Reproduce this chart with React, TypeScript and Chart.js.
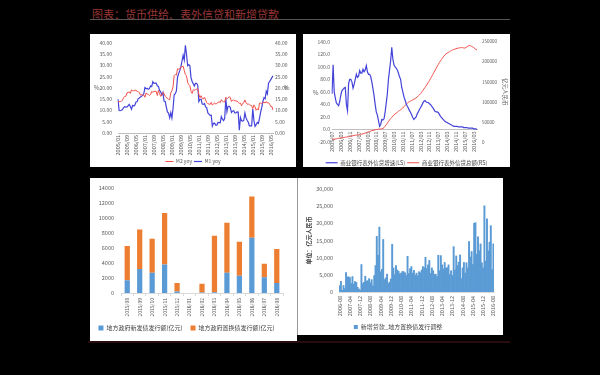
import React, { useEffect, useRef } from 'react';
import { Chart, registerables } from 'chart.js';
Chart.register(...registerables);

const FONT = '"Noto Sans CJK SC", "Noto Sans", sans-serif';
const TICK = '#595959';
const TITLE = '图表：货币供给、表外信贷和新增贷款';

// ---------- Panel 1: M2 / M1 yoy (monthly, 2005/01 - 2016/07)
const p1Series = ['M2 yoy', 'M1 yoy'];
const m2Yoy = [
  14.1, 13.9, 14.0, 14.1, 14.6, 15.7, 16.3, 16.3, 17.9, 18.0, 18.3, 17.6,
  19.2, 18.8, 18.8, 18.9, 19.1, 18.4, 18.4, 17.9, 16.8, 17.1, 16.8, 16.9,
  15.9, 17.8, 17.3, 17.1, 16.7, 17.1, 18.5, 18.1, 18.5, 18.5, 18.5, 16.7,
  18.9, 17.5, 16.3, 16.9, 18.1, 17.4, 16.4, 16.0, 15.3, 15.0, 14.8, 17.8,
  18.8, 20.5, 25.5, 26.0, 25.7, 28.5, 28.4, 28.5, 29.3, 29.4, 29.7, 27.7,
  26.0, 25.5, 22.5, 21.5, 21.0, 18.5, 17.6, 19.2, 19.0, 19.3, 19.5, 19.7,
  17.2, 15.7, 16.6, 15.3, 15.1, 15.9, 14.7, 13.5, 13.0, 12.9, 12.7, 13.6,
  12.4, 13.0, 13.4, 12.8, 13.2, 13.6, 13.9, 13.5, 14.8, 14.1, 13.9, 13.8,
  15.9, 15.2, 15.7, 16.1, 15.8, 14.0, 14.5, 14.7, 14.2, 14.3, 14.2, 13.6,
  13.2, 13.3, 12.1, 13.2, 13.4, 14.7, 13.5, 12.8, 12.9, 12.6, 12.3, 12.2,
  10.8, 12.5, 11.6, 10.1, 10.8, 10.2, 13.3, 13.3, 13.1, 13.5, 13.7, 13.3,
  14.0, 13.3, 13.4, 12.8, 11.8, 11.8, 10.2,
];
const m1Yoy = [
  15.0, 10.0, 9.9, 10.1, 10.4, 11.3, 11.7, 11.5, 11.6, 12.1, 12.7, 11.8,
  10.6, 12.3, 12.0, 12.4, 13.8, 13.9, 15.3, 15.6, 16.0, 16.3, 16.8, 17.5,
  20.2, 19.7, 19.8, 19.4, 19.8, 20.9, 20.6, 22.8, 22.1, 22.2, 22.2, 21.0,
  20.7, 18.9, 18.3, 16.9, 18.0, 14.2, 14.0, 11.6, 9.4, 8.9, 6.8, 9.1,
  6.7, 10.9, 17.0, 17.5, 18.7, 24.8, 26.4, 27.7, 29.5, 32.0, 34.6, 32.4,
  39.0, 35.0, 29.9, 30.4, 29.9, 24.6, 22.9, 21.9, 20.9, 22.1, 22.1, 21.2,
  14.0, 15.0, 15.0, 12.9, 12.7, 13.1, 11.6, 11.2, 8.9, 8.4, 7.8, 7.9,
  3.1, 4.3, 4.4, 3.5, 3.5, 4.7, 4.6, 4.5, 7.3, 6.1, 5.5, 6.5,
  15.3, 9.5, 11.9, 11.9, 11.3, 9.1, 9.7, 9.9, 8.9, 8.9, 9.4, 9.3,
  1.2, 6.9, 5.4, 5.3, 5.7, 8.9, 6.7, 5.7, 4.8, 3.2, 3.2, 3.2,
  10.6, 5.6, 2.9, 3.7, 4.7, 4.3, 6.6, 9.3, 11.4, 14.0, 15.7, 15.2,
  18.6, 17.4, 22.1, 22.9, 23.7, 24.6, 25.4,
];

// ---------- Panel 2: off-balance-sheet credit (monthly, 2005/07 - 2016/06)
const p2Series = ['商业银行表外信贷增速(LS)', '商业银行表外信贷总额(RS)'];
const p2Growth = [
  57, 103, 60, 50, 42, 40, 38, 45, 55, 62,
  64, 66, 67, 40, 30, 73, 80, 80, 76, 66,
  72, 80, 88, 83, 85, 94, 90, 90, 96, 92,
  95, 102, 92, 88, 88, 84, 76, 65, 54, 40,
  28, 23, 14, 5, 8, 16, 15, 17, 28, 42,
  57, 80, 95, 110, 131, 112, 103, 100, 98, 95,
  90, 84, 80, 67, 60, 52, 47, 41, 37, 34,
  30, 27, 23, 19, 16, 18, 20, 25, 28, 32,
  35, 38, 42, 45, 46, 44, 43, 43, 41, 40,
  37, 35, 32, 29, 28, 28, 27, 24, 21, 19,
  17, 15, 13, 12, 11, 10, 9, 8, 7, 6,
  5, 5, 5, 5, 4, 4, 4, 4, 4, 3,
  3, 3, 3, 2, 2, 2, 2, 2, 1, 1,
  1, 0,
];
const p2Total = [
  6300, 6700, 7100, 7600, 8000, 8500, 9000, 9400, 9900, 10400, 10900, 11400, 11900, 12400,
  12900, 13400, 13900, 14500, 15000, 15600, 16200, 16700, 17200, 17800, 18300, 18800, 19300, 19800, 20300,
  21300, 22300, 23300, 24300, 25300, 26300, 27300, 28300, 28800,
  29500, 30500, 31000, 31500, 32000,
  32300, 32500, 32800, 33500,
  36000, 39500, 43000, 47000, 51000, 55000,
  58500, 61500, 64500, 67500, 70000,
  72000, 74000, 76500, 78500, 80500, 82500,
  85000, 88000, 91000, 94000, 96500, 99000,
  100500, 102000, 103500, 105000, 106500, 108000,
  110000, 112500, 115000, 117500, 120500, 124000,
  128000, 132000, 136000, 140000, 144000, 148500,
  153000, 158000, 163000, 168000, 173000, 178000,
  183000, 188000, 193000, 198000, 202000, 206000,
  210000, 214000, 217000, 219500, 221500, 223000,
  225000, 226500, 228000, 229500, 230500, 231500,
  232500, 233500, 234000, 234500, 235000, 235500,
  235000, 234500, 234000, 235500, 237500, 239500,
  240500, 240000, 238500, 237000, 235500, 233000, 231000, 229500,
];

// ---------- Panel 3: local government bonds (亿元)
const p3Months = ['2015/08', '2015/09', '2015/10', '2015/11', '2015/12', '2016/01', '2016/02',
  '2016/03', '2016/04', '2016/05', '2016/06', '2016/07', '2016/08'];
const p3Series = ['地方政府新发债发行额(亿元)', '地方政府置换债发行额(亿元)'];
const p3New = [1700, 3200, 2700, 3800, 200, 0, 80, 100, 2700, 2300, 7400, 2100, 1350];
const p3Swap = [4600, 5300, 4550, 6900, 1150, 0, 1170, 7550, 6700, 4550, 5500, 1800, 4550];

// ---------- Panel 4: new loans adjusted (monthly, 2006-08 - 2016-08)
const p4Series = ['新增贷款_地方置换债发行调整'];
const p4AxisTitle = '单位：亿元人民币';
const p4Loans = [
  1800, 3100, 500, 1900, 1000,
  5670, 4400, 4400, 4200, 2500, 4500, 2300, 3000, 2800, 1400, 900, 500,
  8000, 2400, 2800, 4600, 3200, 3300, 3900, 2700, 3600, 1800, 4800, 7700,
  16200, 10700, 18900, 5900, 6600, 15300, 3600, 4100, 5200, 2500, 2900, 3800,
  13900, 7000, 5100, 7700, 6400, 6000, 5300, 5500, 6000, 5900, 5600, 4800,
  10400, 5400, 6800, 7400, 5500, 6300, 4900, 5500, 4700, 5900, 5600, 6400,
  7400, 7100, 10100, 6800, 7900, 9200, 5400, 7000, 6200, 5100, 5200, 4500,
  10700, 6200, 10600, 7900, 6700, 8600, 7000, 7100, 7900, 5100, 6200, 4800,
  13200, 6400, 10500, 7700, 8700, 10800, 3900, 7000, 8600, 5500, 8500, 7000,
  14700, 10200, 11800, 8000, 20000, 20200, 11000, 16100, 12000, 14000, 8500, 7000,
  25100, 9000, 21300, 12000, 14500, 19300, 6500, 14000,
];

function monthLabels(year: number, month: number, count: number, sep: string) {
  const out: string[] = [];
  for (let i = 0; i < count; i++) {
    const k = month - 1 + i;
    out.push(`${year + Math.floor(k / 12)}${sep}${String((k % 12) + 1).padStart(2, '0')}`);
  }
  return out;
}
const p1Labels = monthLabels(2005, 1, m2Yoy.length, '/');
const p2Labels = monthLabels(2005, 7, p2Growth.length, '/');
const p4Labels = monthLabels(2006, 8, p4Loans.length, '-');

function everyN(n: number) {
  return function (this: any, value: any, index: number) {
    return index % n === 0 ? this.getLabelForValue(value) : null;
  };
}
const f = (size: number, weight: any = 'normal') => ({ size, family: FONT, weight });
const noGrid = { display: false, drawTicks: false };
const plain = (v: any) => String(v);
// invisible legend title used only as a spacer so the legend items sit at the panel bottom
const spacer = (bottom: number) => ({ display: true, text: '', font: f(10), padding: { top: 0, bottom } });

function p1Config(): any {
  return {
    type: 'line',
    data: {
      labels: p1Labels,
      datasets: [
        { label: p1Series[0], data: m2Yoy, borderColor: '#f0504c', backgroundColor: '#f0504c', borderWidth: 1, pointRadius: 0, yAxisID: 'y' },
        { label: p1Series[1], data: m1Yoy, borderColor: '#4343d9', backgroundColor: '#4343d9', borderWidth: 1.2, pointRadius: 0, yAxisID: 'y1' },
      ],
    },
    options: {
      responsive: false, animation: false, devicePixelRatio: 1,
      layout: { padding: { top: 7, left: 0, right: 0, bottom: 0 } },
      plugins: {
        legend: {
          position: 'bottom', maxHeight: 34, title: spacer(12),
          labels: { font: f(5), color: TICK, usePointStyle: true, pointStyle: 'line', pointStyleWidth: 8, padding: 2 },
        },
        tooltip: { enabled: false },
      },
      scales: {
        x: {
          position: { y: 0 },
          grid: noGrid, border: { color: '#bfbfbf' },
          ticks: { autoSkip: false, minRotation: 90, maxRotation: 90, padding: 2, font: f(5.5), color: TICK, callback: everyN(8) },
        },
        y: {
          min: 0, max: 40, grid: noGrid, border: { display: false },
          ticks: { stepSize: 5, padding: 6, font: f(5), color: TICK, callback: (v: any) => Number(v).toFixed(2) },
          afterFit: (s: any) => { s.width = 28; },
        },
        y1: {
          position: 'right', min: 0, max: 40, grid: noGrid, border: { display: false },
          ticks: { stepSize: 5, padding: 2, font: f(5), color: TICK, callback: (v: any) => Number(v).toFixed(2) },
          afterFit: (s: any) => { s.width = 23; },
        },
      },
    },
  };
}

function p2Config(): any {
  return {
    type: 'line',
    data: {
      labels: p2Labels,
      datasets: [
        { label: p2Series[0], data: p2Growth, borderColor: '#4343d9', backgroundColor: '#4343d9', borderWidth: 1.2, pointRadius: 0, yAxisID: 'y' },
        { label: p2Series[1], data: p2Total, borderColor: '#f0504c', backgroundColor: '#f0504c', borderWidth: 1, pointRadius: 0, yAxisID: 'y1' },
      ],
    },
    options: {
      responsive: false, animation: false, devicePixelRatio: 1,
      layout: { padding: { top: 7, left: 0, right: 0, bottom: 0 } },
      plugins: {
        legend: {
          position: 'bottom', maxHeight: 25, title: spacer(4),
          labels: { font: f(5.5), color: '#404040', usePointStyle: true, pointStyle: 'line', pointStyleWidth: 12, padding: 2 },
        },
        tooltip: { enabled: false },
      },
      scales: {
        x: {
          position: { y: 0 },
          grid: noGrid, border: { color: '#bfbfbf' },
          ticks: { autoSkip: false, minRotation: 90, maxRotation: 90, padding: 2, font: f(5.5), color: TICK, callback: everyN(8) },
        },
        y: {
          min: -20, max: 140, grid: noGrid, border: { display: false },
          ticks: { stepSize: 20, padding: 2, font: f(5), color: TICK, callback: (v: any) => Number(v).toFixed(1) },
          afterFit: (s: any) => { s.width = 29; },
        },
        y1: {
          position: 'right', min: 0, max: 250000, grid: noGrid, border: { display: false },
          ticks: { stepSize: 50000, padding: 5, font: f(4.5), color: TICK, callback: plain },
          title: { display: true, text: '亿元人民币', font: f(5.5), color: TICK, padding: { top: 2, bottom: 0 } },
          afterFit: (s: any) => { s.width = 33; },
        },
      },
    },
  };
}

function p3Config(): any {
  return {
    type: 'bar',
    data: {
      labels: p3Months,
      datasets: [
        { label: p3Series[0], data: p3New, backgroundColor: '#5b9bd5', stack: 's', barPercentage: 0.42, categoryPercentage: 1 },
        { label: p3Series[1], data: p3Swap, backgroundColor: '#ed7d31', stack: 's', barPercentage: 0.42, categoryPercentage: 1 },
      ],
    },
    options: {
      responsive: false, animation: false, devicePixelRatio: 1,
      layout: { padding: { top: 7, left: 0, right: 14, bottom: 0 } },
      plugins: {
        legend: { position: 'bottom', maxHeight: 24, labels: { font: f(6), color: '#404040', boxWidth: 5, boxHeight: 5, padding: 8 } },
        tooltip: { enabled: false },
      },
      scales: {
        x: {
          stacked: true,
          grid: { display: true, drawOnChartArea: false, drawTicks: true, tickLength: 3, color: '#d9d9d9', offset: true },
          border: { color: '#d9d9d9' },
          ticks: { autoSkip: false, minRotation: 90, maxRotation: 90, padding: 2, font: f(5), color: TICK },
          afterFit: (s: any) => { s.height = 24; },
        },
        y: {
          stacked: true, min: 0, max: 14000, grid: noGrid, border: { display: false },
          ticks: { stepSize: 2000, padding: 7, font: f(5.5), color: TICK, callback: plain },
          afterFit: (s: any) => { s.width = 31; },
        },
      },
    },
  };
}

function p4Config(): any {
  return {
    type: 'bar',
    data: {
      labels: p4Labels,
      datasets: [
        { label: p4Series[0], data: p4Loans, backgroundColor: '#5b9bd5', barPercentage: 1, categoryPercentage: 1 },
      ],
    },
    options: {
      responsive: false, animation: false, devicePixelRatio: 1,
      layout: { padding: { top: 11, left: 0, right: 6, bottom: 0 } },
      plugins: {
        legend: {
          position: 'bottom', maxHeight: 43, title: spacer(12),
          labels: { font: f(6), color: '#404040', boxWidth: 4, boxHeight: 4, padding: 8 },
        },
        tooltip: { enabled: false },
      },
      scales: {
        x: {
          position: { y: 0 },
          grid: noGrid, border: { color: '#d9d9d9' },
          ticks: { autoSkip: false, minRotation: 90, maxRotation: 90, padding: 4, font: f(5.5), color: TICK, callback: everyN(8) },
        },
        y: {
          min: 0, max: 30000, grid: noGrid, border: { display: false },
          ticks: { stepSize: 5000, padding: 6, font: f(5.5), color: TICK, callback: (v: any) => Number(v).toLocaleString('en-US') },
          title: { display: true, text: p4AxisTitle, font: f(6, 'bold'), color: '#404040', padding: { top: 7, bottom: 0 } },
          afterFit: (s: any) => { s.width = 41; },
        },
      },
    },
  };
}

function Panel({ left, top, width, height, make, style, children }: any) {
  const ref = useRef<HTMLCanvasElement>(null);
  useEffect(() => {
    const chart = new Chart(ref.current as HTMLCanvasElement, make());
    return () => chart.destroy();
  }, []);
  return (
    <div style={{ position: 'absolute', left, top, width, height, background: '#fff', overflow: 'hidden', ...style }}>
      <canvas ref={ref} width={width} height={height} style={{ display: 'block', width, height }} />
      {children}
    </div>
  );
}

const small: any = { position: 'absolute', fontSize: 6, lineHeight: '7px', color: TICK, fontFamily: FONT };

export default function App() {
  return (
    <div style={{ position: 'fixed', left: 0, top: 0, width: 600, height: 375, background: '#000', overflow: 'hidden', fontFamily: FONT }}>
      <div style={{ position: 'absolute', left: 92, top: 8, fontSize: 11, lineHeight: '12px', color: '#9a3636', whiteSpace: 'nowrap' }}>{TITLE}</div>
      <div style={{ position: 'absolute', left: 90, top: 19, width: 420, height: 1, background: '#555' }} />
      <Panel left={90} top={34} width={206} height={133} make={p1Config}>
        <div style={{ ...small, left: 4, top: 50 }}>%</div>
        <div style={{ ...small, left: 194, top: 50 }}>%</div>
      </Panel>
      <Panel left={303} top={34} width={207} height={133} make={p2Config}>
        <div style={{ ...small, left: 10, top: 55 }}>%</div>
      </Panel>
      <Panel left={90} top={178} width={207} height={163} make={p3Config} />
      <Panel left={297} top={178} width={206} height={157} make={p4Config} style={{ borderLeft: '1px solid #999', boxSizing: 'border-box' }} />
      <div style={{ position: 'absolute', left: 88, top: 341, width: 422, height: 2, background: '#2a0c0c' }} />
    </div>
  );
}
